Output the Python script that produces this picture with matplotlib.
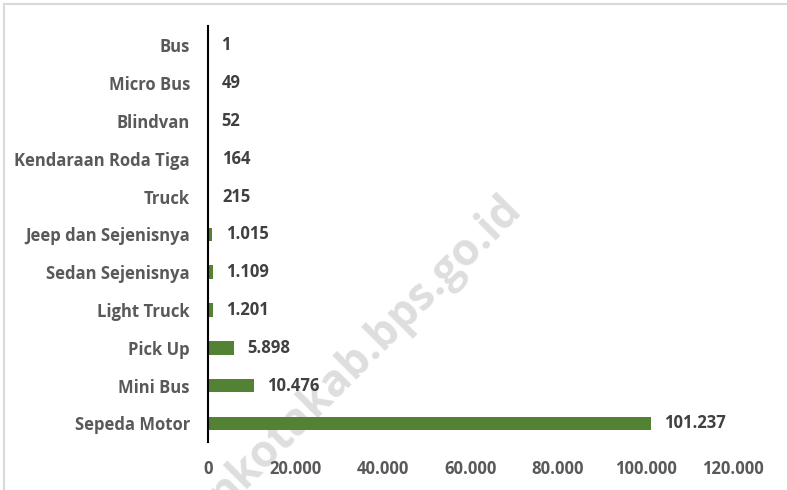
import matplotlib
matplotlib.use("Agg")
import matplotlib.pyplot as plt
from matplotlib.lines import Line2D

categories = ["Bus", "Micro Bus", "Blindvan", "Kendaraan Roda Tiga", "Truck",
              "Jeep dan Sejenisnya", "Sedan Sejenisnya", "Light Truck", "Pick Up",
              "Mini Bus", "Sepeda Motor"]
values = [1, 49, 52, 164, 215, 1015, 1109, 1201, 5898, 10476, 101237]
xticks = [0, 20000, 40000, 60000, 80000, 100000, 120000]

def fmt(v):
    return f"{v:,}".replace(",", ".")

plt.rcParams['font.family'] = ['Open Sans', 'DejaVu Sans']
W, H = 787, 490
fig = plt.figure(figsize=(W/100, H/100), dpi=100)
ax = fig.add_axes([208/W, 1-442.3/H, (733-208)/W, (442.3-26.5)/H])
ax.set_zorder(2)
ax.patch.set_alpha(0)

FS = 12.0
ypos = list(range(len(categories)))
ax.barh(ypos, values, height=0.36, color="#548235", zorder=3)
ax.set_ylim(len(categories)-0.5, -0.5)
ax.set_xlim(0, 120000)
ax.set_yticks(ypos)
ax.set_yticklabels(categories, fontsize=FS, fontweight='bold', color="#595959")
ax.set_xticks(xticks)
ax.set_xticklabels([fmt(t) for t in xticks], fontsize=FS, fontweight='bold', color="#595959")
ax.tick_params(axis='y', length=0, pad=13)
ax.tick_params(axis='x', length=0, pad=13)
for s in ['top', 'right', 'bottom']:
    ax.spines[s].set_visible(False)
ax.spines['left'].set_color('black')
ax.spines['left'].set_linewidth(1.5)
ax.spines['left'].set_zorder(4)

for y, v in zip(ypos, values):
    ax.annotate(fmt(v), (v, y), xytext=(9.5, 0), textcoords='offset points',
                ha='left', va='center', fontsize=FS, fontweight='bold', color="#404040", zorder=5)

# watermark (behind the chart)
fig.text(499/W, 1-186/H, "nkotakab.bps.go.id", fontsize=32, fontweight='bold',
         color="#dedede", rotation=45, rotation_mode='anchor', ha='right', va='top', zorder=0)

# frame
fig.add_artist(Line2D([4/W, 1], [1-4/H, 1-4/H], color="#d9d9d9", lw=1.5))
fig.add_artist(Line2D([4/W, 4/W], [0, 1-4/H], color="#d9d9d9", lw=1.5))

fig.savefig("out.png", dpi=100)
